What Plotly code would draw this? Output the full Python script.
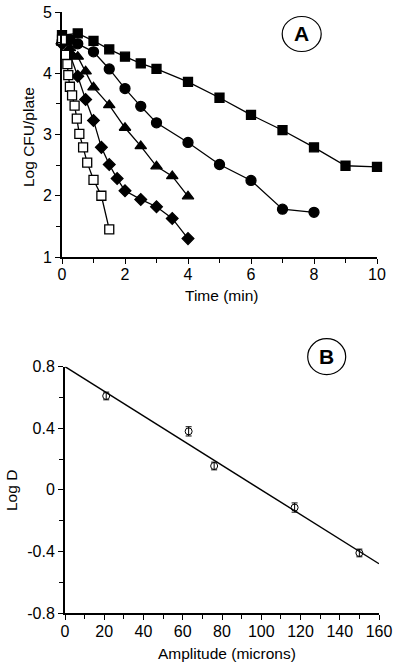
import plotly.graph_objects as go

# ---- Panel A data: Log CFU/plate vs time (min) ----
t_fsq = [0, 0.5, 1, 1.5, 2, 2.5, 3, 4, 5, 6, 7, 8, 9, 10]
y_fsq = [4.62, 4.65, 4.53, 4.39, 4.27, 4.16, 4.07, 3.86, 3.60, 3.32, 3.07, 2.79, 2.49, 2.47]

t_circ = [0, 0.25, 0.5, 1, 1.5, 2, 2.5, 3, 4, 5, 6, 7, 8]
y_circ = [4.52, 4.55, 4.48, 4.35, 4.07, 3.75, 3.46, 3.19, 2.87, 2.51, 2.25, 1.78, 1.73]

t_tri = [0, 0.25, 0.5, 0.75, 1, 1.5, 2, 2.5, 3, 3.5, 4]
y_tri = [4.50, 4.41, 4.27, 4.03, 3.77, 3.48, 3.11, 2.81, 2.48, 2.32, 1.99]

t_dia = [0, 0.25, 0.5, 0.75, 1, 1.25, 1.5, 1.75, 2, 2.5, 3, 3.5, 4]
y_dia = [4.48, 4.31, 3.95, 3.57, 3.23, 2.79, 2.51, 2.28, 2.08, 1.94, 1.82, 1.63, 1.30]

t_osq = [0, 0.1, 0.17, 0.2, 0.25, 0.32, 0.4, 0.47, 0.55, 0.67, 0.8, 1.0, 1.25, 1.5]
y_osq = [4.55, 4.30, 4.15, 3.97, 3.78, 3.64, 3.47, 3.26, 3.01, 2.79, 2.54, 2.26, 2.00, 1.45]

# ---- Panel B data: Log D vs amplitude (microns) ----
amp = [21, 63, 76, 117, 150]
logd = [0.61, 0.38, 0.155, -0.115, -0.41]
logd_err = [0.025, 0.03, 0.025, 0.03, 0.025]
fit_x = [0, 160]
fit_y = [0.80, -0.48]

FONT = "Liberation Sans, Arial, Helvetica, sans-serif"
BLACK = "black"

fig = go.Figure()

def series(x, y, symbol, size, filled=True):
    fig.add_trace(go.Scatter(
        x=x, y=y, mode="lines+markers", xaxis="x", yaxis="y",
        line=dict(color=BLACK, width=1.3),
        marker=dict(symbol=symbol, size=size,
                    color=BLACK if filled else "white",
                    line=dict(color=BLACK, width=1.3)),
        cliponaxis=False, showlegend=False))

series(t_fsq, y_fsq, "square", 9)
series(t_circ, y_circ, "circle", 10)
series(t_tri, y_tri, "triangle-up", 10)
series(t_dia, y_dia, "diamond", 9)
series(t_osq, y_osq, "square", 9, filled=False)

fig.add_trace(go.Scatter(
    x=fit_x, y=fit_y, mode="lines", xaxis="x2", yaxis="y2",
    line=dict(color=BLACK, width=1.4), showlegend=False, cliponaxis=False))
fig.add_trace(go.Scatter(
    x=amp, y=logd, mode="markers", xaxis="x2", yaxis="y2",
    marker=dict(symbol="circle-open", size=7, color=BLACK, line=dict(width=1)),
    error_y=dict(type="data", array=logd_err, color=BLACK, thickness=1, width=3),
    showlegend=False, cliponaxis=False))

W, H = 400, 664
def px(x):
    return x / W
def py(y):
    return 1 - y / H

axis_common = dict(
    showline=True, linecolor=BLACK, linewidth=2, mirror=False, automargin=False,
    showgrid=False, zeroline=False, ticks="outside", ticklen=5, tickwidth=1.2,
    tickcolor=BLACK, tickfont=dict(family=FONT, size=16, color=BLACK),
    minor=dict(ticks="outside", ticklen=4, tickwidth=1.2, tickcolor=BLACK, showgrid=False),
    fixedrange=True,
)

fig.update_layout(
    width=W, height=H,
    margin=dict(l=0, r=0, t=0, b=0, autoexpand=False),
    paper_bgcolor="white", plot_bgcolor="white",
    font=dict(family=FONT, color=BLACK),
    xaxis=dict(axis_common, domain=[px(62), px(377)], range=[0, 10],
               tickvals=[0, 2, 4, 6, 8, 10], minor=dict(axis_common["minor"], dtick=1),
               ticklabelstandoff=-3, anchor="y"),
    yaxis=dict(axis_common, domain=[py(257), py(12)], range=[1, 5],
               tickvals=[1, 2, 3, 4, 5], minor=dict(axis_common["minor"], dtick=0.5),
               anchor="x"),
    xaxis2=dict(axis_common, domain=[px(65), px(379)], range=[0, 160],
                tickvals=list(range(0, 161, 20)), minor=dict(axis_common["minor"], dtick=10),
                ticklabelstandoff=-2, anchor="y2"),
    yaxis2=dict(axis_common, domain=[py(613), py(366.7)], range=[-0.8, 0.8],
                tickvals=[-0.8, -0.4, 0, 0.4, 0.8], ticktext=["-0.8", "-0.4", "0", "0.4", "0.8"],
                minor=dict(axis_common["minor"], dtick=0.2),
                anchor="x2"),
)

# axis titles
for cx, cy, txt, ang in [(221, 295, "Time (min)", 0), (28, 137, "Log CFU/plate", -90),
                         (227, 653, "Amplitude (microns)", 0), (11, 491, "Log D", -90)]:
    fig.add_annotation(x=px(cx), y=py(cy), xref="paper", yref="paper", text=txt,
                       showarrow=False, textangle=ang,
                       font=dict(family=FONT, size=15.5, color=BLACK),
                       xanchor="center", yanchor="middle")

# circled panel letters
for cx, cy, rx, ry, letter in [(301.7, 34, 19.5, 17.5, "A"), (326.7, 356.7, 19, 18, "B")]:
    fig.add_shape(type="circle", xref="paper", yref="paper",
                  x0=px(cx - rx), x1=px(cx + rx), y0=py(cy + ry), y1=py(cy - ry),
                  line=dict(color=BLACK, width=1.2))
    fig.add_annotation(x=px(cx), y=py(cy), xref="paper", yref="paper", text="<b>%s</b>" % letter,
                       showarrow=False, font=dict(family=FONT, size=21, color=BLACK),
                       xanchor="center", yanchor="middle")

fig.write_html("out.html", config={"displayModeBar": False},
               post_script="document.body.style.margin='0px';document.body.style.padding='0px';")
